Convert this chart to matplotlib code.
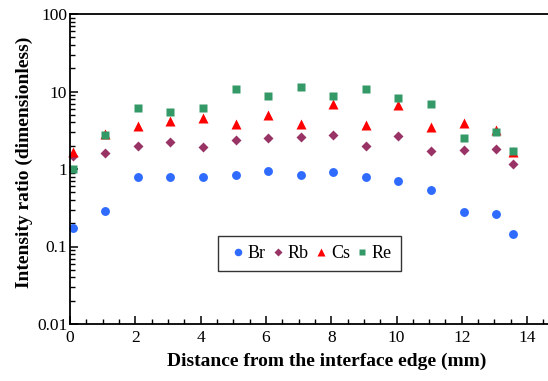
import matplotlib
matplotlib.use("Agg")
import matplotlib.pyplot as plt
from matplotlib.ticker import FixedLocator, FixedFormatter, LogLocator, MultipleLocator, NullFormatter

plt.rcParams['font.family'] = ['Liberation Serif', 'DejaVu Serif']

x = [0.08, 1.07, 2.07, 3.07, 4.06, 5.07, 6.06, 7.06, 8.06, 9.06, 10.06, 11.07, 12.06, 13.06, 13.56]
br = [0.175, 0.284, 0.796, 0.789, 0.796, 0.845, 0.933, 0.845, 0.906, 0.789, 0.693, 0.541, 0.276, 0.26, 0.146]
rb = [1.47, 1.62, 1.98, 2.21, 1.92, 2.34, 2.53, 2.61, 2.72, 1.98, 2.67, 1.71, 1.74, 1.83, 1.16]
cs = [1.67, 2.83, 3.62, 4.12, 4.59, 3.85, 5.02, 3.81, 6.96, 3.66, 6.63, 3.48, 3.96, 3.19, 1.66]
re = [0.99, 2.77, 6.18, 5.44, 6.07, 10.9, 8.67, 11.3, 8.75, 10.7, 8.24, 6.96, 2.49, 2.97, 1.71]

yticks = [0.01, 0.1, 1, 10, 100]
ytick_labels = ["0.01", "0.1", "1", "10", "100"]
xticks = [0, 2, 4, 6, 8, 10, 12, 14]

fig = plt.figure(figsize=(5.48, 3.81), dpi=100)
ax = fig.add_axes([70/548, 57/381, 478/548, 310/381])

ax.plot(x, br, 'o', color='#2f6bff', ms=6.4, mec='none', label='Br', clip_on=False)
ax.plot(x, rb, 'D', color='#993366', ms=4.6, mec='none', label='Rb', clip_on=False)
ax.plot(x, cs, '^', color='#ff0000', ms=6.6, mec='none', label='Cs', clip_on=False)
ax.plot(x, re, 's', color='#339966', ms=5.8, mec='none', label='Re', clip_on=False)

ax.set_yscale('log')
ax.set_ylim(0.01, 100)
ax.set_xlim(0, 14.64)
ax.yaxis.set_major_locator(FixedLocator(yticks))
ax.yaxis.set_major_formatter(FixedFormatter(ytick_labels))
ax.yaxis.set_minor_locator(LogLocator(base=10, subs=range(2, 10)))
ax.yaxis.set_minor_formatter(NullFormatter())
ax.xaxis.set_major_locator(FixedLocator(xticks))
ax.xaxis.set_minor_locator(MultipleLocator(0.5))

for s in ['left', 'bottom', 'top']:
    ax.spines[s].set_linewidth(1.3)
ax.spines['right'].set_visible(False)
ax.tick_params(which='major', direction='in', length=6, width=1.1, labelsize=12.5)
ax.tick_params(axis='y', which='major', pad=2)
ax.tick_params(axis='x', which='major', pad=4)
ax.tick_params(which='minor', direction='in', length=3.5, width=1.0)
ax.tick_params(top=False, right=False)

fig.text(0.596, 0.052, 'Distance from the interface edge (mm)', ha='center', va='center',
         fontsize=14, fontweight='bold')
fig.text(0.045, 0.575, 'Intensity ratio (dimensionless)', ha='center', va='center',
         rotation=90, fontsize=14, fontweight='bold')

leg = ax.legend(loc='center', bbox_to_anchor=(0.501, 0.226), ncol=4, frameon=True,
                fancybox=False, edgecolor='black', fontsize=13, handlelength=1.2,
                handletextpad=-0.05, columnspacing=0.07, borderpad=0.5, markerscale=0.85)
leg.get_frame().set_linewidth(1.0)

fig.savefig('out.png', dpi=100)
